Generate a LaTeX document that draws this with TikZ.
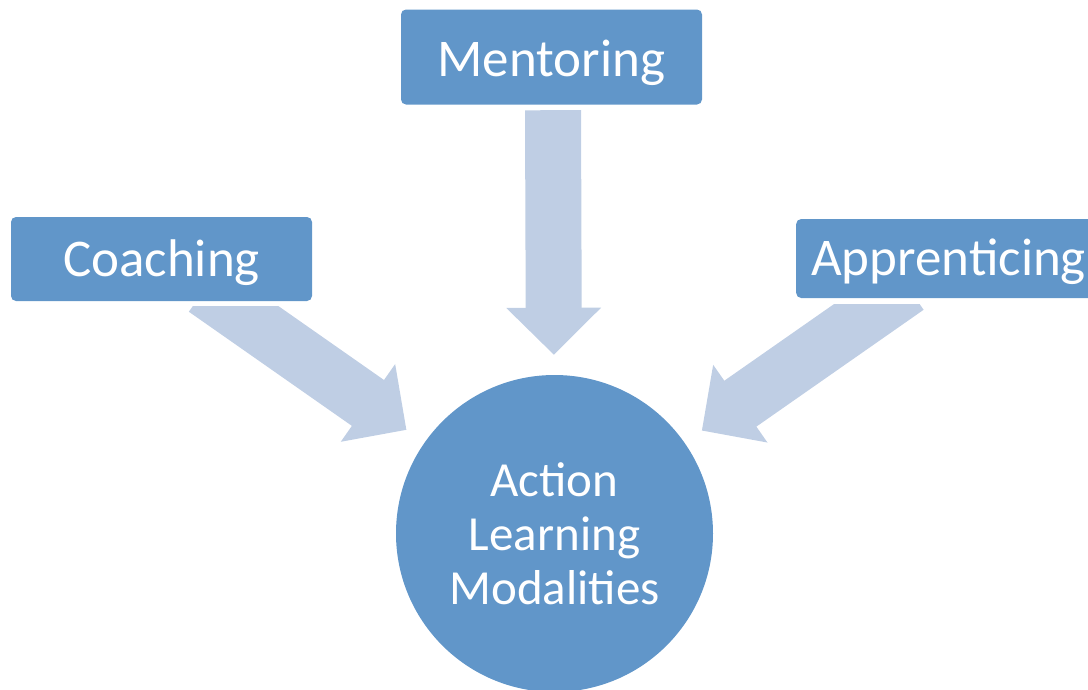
\documentclass[tikz,border=0pt]{standalone}
\usepackage{fontspec}
\setmainfont{Carlito}
\usetikzlibrary{arrows.meta,calc}
\definecolor{boxblue}{RGB}{97,150,201}
\definecolor{arrowblue}{RGB}{191,206,228}
\begin{document}
\begin{tikzpicture}[x=1pt,y=-1pt,
    modality/.style={fill=boxblue,rounded corners=5pt,text=white,
      font=\fontsize{53}{60}\selectfont,text height=34pt,text depth=0pt,
      minimum height=84pt,minimum width=301pt,inner sep=0pt},
    blockarrow/.style={draw=arrowblue,line width=56pt,-{Triangle[width=92pt,length=47pt]}}]
  \useasboundingbox (0,0) rectangle (1088,689);
  % centre and the three boxes
  \node[circle,fill=boxblue,text=white,minimum size=317pt,align=center,
    font=\fontsize{49}{54}\selectfont] (ring) at (554.5,533.5) {Action\\Learning\\Modalities};
  \node[modality,minimum height=95pt,text height=38pt] (mentor) at (551.5,57) {Mentoring};
  \node[modality] (coach) at (161.5,259) {Coaching};
  \node[modality,minimum height=79pt,minimum width=0pt,inner xsep=15pt,anchor=west] (apprentice) at (796,258.5) {Apprenticing};
  % block arrows
  \draw[blockarrow,shorten >=20pt] ($(mentor.south)+(1.5,5.5)$) -- (ring);
  \coordinate (ctail) at (229.5,306);
  \coordinate (atail) at (883,304);
  \begin{scope}
    \clip (0,306) rectangle (544,689);
    \draw[blockarrow,shorten >=22pt] ($(ctail)!-30pt!(ring.center)$) -- (ring);
  \end{scope}
  \begin{scope}
    \clip (564,304) rectangle (1088,689);
    \draw[blockarrow,shorten >=21pt] ($(atail)!-30pt!(ring.center)$) -- (ring);
  \end{scope}
\end{tikzpicture}
\end{document}
